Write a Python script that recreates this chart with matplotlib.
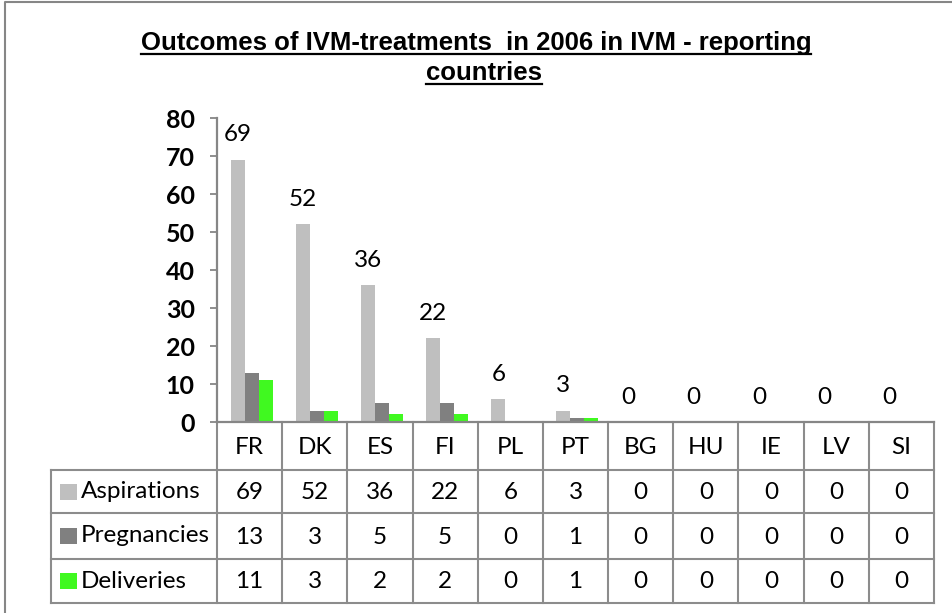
import matplotlib
matplotlib.use("Agg")
import matplotlib.pyplot as plt
import matplotlib.transforms as mtransforms
from matplotlib.lines import Line2D
from matplotlib.patches import Rectangle
import numpy as np

# ---- data ----
countries = ["FR", "DK", "ES", "FI", "PL", "PT", "BG", "HU", "IE", "LV", "SI"]
aspirations = [69, 52, 36, 22, 6, 3, 0, 0, 0, 0, 0]
pregnancies = [13, 3, 5, 5, 0, 1, 0, 0, 0, 0, 0]
deliveries = [11, 3, 2, 2, 0, 1, 0, 0, 0, 0, 0]
series_names = ["Aspirations", "Pregnancies", "Deliveries"]
series_colors = ["#BFBFBF", "#808080", "#40F920"]
y_ticks = [0, 10, 20, 30, 40, 50, 60, 70, 80]
title_lines = ["Outcomes of IVM-treatments  in 2006 in IVM - reporting", "countries"]

W, H = 952, 613
BODY = ["Lato", "DejaVu Sans"]
TITLE = ["Liberation Sans Narrow", "Liberation Sans", "DejaVu Sans"]
GRID = "#8C8C8C"
AXIS = "#868686"
FS = 17.5

fig = plt.figure(figsize=(W / 100, H / 100), dpi=100)


def fx(px):
    return px / W


def fy(py):
    return 1 - py / H


# plot area in pixel terms
X0, X1, Y0, Y80 = 217, 934, 422, 118
ax = fig.add_axes([fx(X0), fy(Y0), fx(X1 - X0), (Y0 - Y80) / H])


def ay(py):
    return (Y0 - py) / (Y0 - Y80)


series = [aspirations, pregnancies, deliveries]
n = len(countries)
x = np.arange(n)
bw = 0.215
shift = 0.03
for k, (vals, col) in enumerate(zip(series, series_colors)):
    ax.bar(x + shift + (k - 1) * bw, vals, width=bw, color=col, linewidth=0, zorder=2)

# value labels above the aspiration bars
for i, v in enumerate(aspirations):
    ax.annotate(str(v), (x[i] + shift - bw, v), xytext=(0, 18), textcoords="offset points",
                ha="center", va="center", fontsize=FS, family=BODY, color="black",
                annotation_clip=False)

ax.set_xlim(-0.5, n - 0.5)
ax.set_ylim(0, 80)
ax.set_yticks(y_ticks)
ax.set_xticks([])
for s in ["top", "right"]:
    ax.spines[s].set_visible(False)
for s in ["left", "bottom"]:
    ax.spines[s].set_color(AXIS)
    ax.spines[s].set_linewidth(1.6)
ax.tick_params(axis="y", direction="out", length=5, width=1.3, color=AXIS, pad=11,
               labelsize=18)
for lab in ax.get_yticklabels():
    lab.set_fontweight("bold")
    lab.set_family(BODY)

# ---- data table ----
tb = mtransforms.blended_transform_factory(ax.transData, ax.transAxes)
row_edges = [470, 513, 559, 603]
label_left = 51

# horizontal rules
for ry in row_edges:
    fig.add_artist(Line2D([fx(label_left), fx(X1)], [fy(ry), fy(ry)], color=GRID, lw=1.5,
                          transform=fig.transFigure))
# vertical rules between columns
for b in np.arange(n + 1) - 0.5:
    ax.add_line(Line2D([b, b], [ay(Y0), ay(row_edges[-1])], color=GRID, lw=1.5,
                       transform=tb, clip_on=False))
fig.add_artist(Line2D([fx(label_left), fx(label_left)], [fy(row_edges[0]), fy(row_edges[-1])],
                      color=GRID, lw=1.5, transform=fig.transFigure))

# header row with country codes
for i, c in enumerate(countries):
    ax.text(x[i], ay((Y0 + row_edges[0]) / 2 + 1), c, transform=tb, ha="center", va="center",
            fontsize=FS, family=BODY, clip_on=False)

# value rows with legend keys
for r, (name, vals, col) in enumerate(zip(series_names, series, series_colors)):
    top, bot = row_edges[r], row_edges[r + 1]
    cy = (top + bot) / 2
    fig.add_artist(Rectangle((fx(60), fy(cy + 8)), fx(17), 16 / H, facecolor=col,
                             edgecolor="none", transform=fig.transFigure))
    fig.text(fx(81), fy(cy), name, ha="left", va="center", fontsize=FS, family=BODY)
    for i, v in enumerate(vals):
        ax.text(x[i], ay(cy + 1), str(v), transform=tb, ha="center", va="center",
                fontsize=FS, family=BODY, clip_on=False)

# outer frame of the chart area
fig.add_artist(Line2D([fx(5), fx(5), fx(W + 5)], [fy(H + 5), fy(1.5), fy(1.5)], color=AXIS,
                      lw=1.5, transform=fig.transFigure))

# ---- title (underlined) ----
title_texts = []
for line, cx, base in zip(title_lines, [476, 484], [50, 80]):
    t = fig.text(fx(cx), fy(base), line, ha="center", va="baseline", fontsize=18.5,
                 fontweight="bold", family=TITLE)
    title_texts.append((t, base))

fig.canvas.draw()
r = fig.canvas.get_renderer()
for t, base in title_texts:
    bb = t.get_window_extent(renderer=r)
    fig.add_artist(Line2D([bb.x0 / W, bb.x1 / W], [fy(base + 3.5), fy(base + 3.5)],
                          color="black", lw=1.6, transform=fig.transFigure))

fig.savefig("out.png", dpi=100)
